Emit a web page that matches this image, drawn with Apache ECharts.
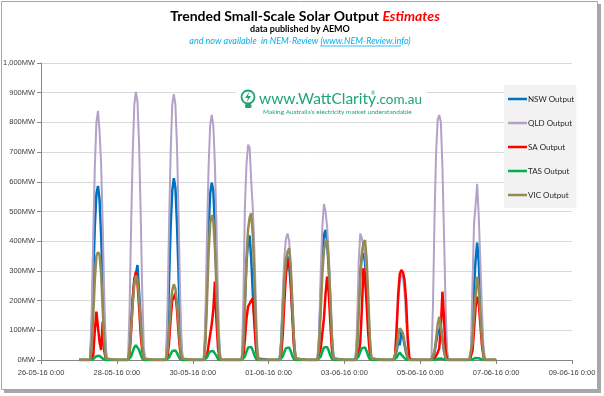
<!DOCTYPE html>
<html>
<head>
<meta charset="utf-8">
<script src="https://cdn.jsdelivr.net/npm/echarts@6/dist/echarts.min.js"></script>
<style>html,body{margin:0;padding:0;background:#fff;}#c{width:604px;height:396px;}</style>
</head>
<body>
<div id="c"></div>
<script>
// ---- data ----
const xTickLabels = ['26-05-16 0:00','28-05-16 0:00','30-05-16 0:00','01-06-16 0:00','03-06-16 0:00','05-06-16 0:00','07-06-16 0:00','09-06-16 0:00'];
const yTickLabels = ['0MW','100MW','200MW','300MW','400MW','500MW','600MW','700MW','800MW','900MW','1,000MW'];
const days = ['27-05-16','28-05-16','29-05-16','30-05-16','31-05-16','01-06-16','02-06-16','03-06-16','04-06-16','05-06-16','06-06-16'];
const hours = [8,9,10,11,12,13,14,15,16,17];
const seriesNames = ['NSW Output','QLD Output','SA Output','TAS Output','VIC Output'];

const nsw = [
[90,280,450,560,586,540,420,260,110,15],
[40,130,210,270,290,320,230,140,60,10],
[80,270,450,570,612,580,460,290,120,15],
[80,260,440,560,597,570,450,280,110,15],
[60,200,330,400,419,337,225,140,60,5],
[60,190,290,340,348,320,250,160,60,5],
[70,220,350,420,438,400,310,190,70,5],
[60,200,300,350,360,330,250,150,50,5],
[5,30,60,50,95,80,50,25,5,0],
[5,25,60,90,100,112,70,30,5,0],
[10,100,250,337,395,330,200,90,20,0]
];
const qld = [
[150,420,650,800,839,769,660,450,210,40],
[170,460,700,860,903,870,730,500,230,45],
[170,460,700,860,895,860,720,490,220,40],
[150,420,650,790,825,790,660,450,200,35],
[200,520,660,725,715,600,510,370,180,30],
[80,230,350,410,426,400,320,210,90,15],
[100,300,450,525,500,450,360,240,100,15],
[120,330,426,410,380,360,300,200,80,10],
[20,120,200,260,290,280,230,140,50,5],
[180,480,700,810,825,800,650,420,180,30],
[30,250,460,522,593,480,330,170,40,0]
];
const sa = [
[0,15,100,163,110,60,34,129,30,0],
[20,100,200,270,297,260,180,90,30,0],
[10,60,140,200,210,225,170,90,30,0],
[0,15,50,85,120,170,264,130,40,0],
[10,70,140,180,190,200,208,120,40,0],
[20,90,200,290,330,337,270,150,50,0],
[5,40,90,140,220,281,230,130,40,0],
[0,20,60,170,309,280,190,90,25,0],
[10,100,220,290,303,295,270,200,80,10],
[0,5,15,25,40,110,230,140,30,0],
[0,30,100,180,213,190,120,50,10,0]
];
const tas = [
[0,3,8,13,15,14,10,5,1,0],
[2,12,28,43,50,46,34,18,5,0],
[1,8,20,30,34,32,24,12,3,0],
[1,8,22,29,30,30,27,14,3,0],
[2,12,28,42,47,44,32,16,4,0],
[2,12,28,40,45,42,30,14,3,0],
[2,12,28,42,47,44,32,16,4,0],
[2,12,28,40,45,42,30,14,3,0],
[0,8,18,25,18,12,6,2,0,0],
[0,1,3,4,5,5,4,2,0,0],
[0,2,5,7,7,6,4,2,0,0]
];
const vic = [
[40,150,270,350,363,355,290,170,60,5],
[30,110,190,255,285,270,210,130,50,5],
[30,100,180,235,255,240,190,120,45,5],
[60,200,360,460,488,470,380,240,90,10],
[50,180,340,440,480,494,420,270,100,10],
[50,160,270,340,365,376,310,190,70,5],
[50,170,290,370,395,404,330,210,80,5],
[40,150,270,360,395,404,340,220,80,5],
[5,40,80,107,100,90,60,30,8,0],
[5,30,70,120,146,110,70,30,8,0],
[5,60,160,219,281,240,150,70,15,0]
];

// ---- build point lists: x = hours since 26-05-16 0:00 ----
function build(arr){
  const pts = [];
  days.forEach(function(d, i){
    const base = 24 * (i + 1);
    pts.push([base, 0]);
    pts.push([base + 7, 0]);
    hours.forEach(function(h, j){ pts.push([base + h, arr[i][j]]); });
    pts.push([base + 18, 0]);
  });
  pts.push([24 * (days.length + 1), 0]);
  return pts;
}
const allData = [nsw, qld, sa, tas, vic];
const colors = ['#0070C0','#B3A2C7','#FF0000','#00B050','#948A54'];
const widths = [2.5, 2, 2.5, 2.5, 2.5];

const chart = echarts.init(document.getElementById('c'), null, {renderer:'canvas'});
const green = '#1FA472';
const option = {
  backgroundColor: '#ffffff',
  animation: false,
  title: {
    text: '{a|Trended Small-Scale Solar Output }{b|Estimates}',
    left: 300, top: 4, textAlign: 'center',
    textStyle: {
      rich: {
        a: {fontFamily: 'Lato', fontWeight: 'bold', fontSize: 14, color: '#000'},
        b: {fontFamily: 'Lato', fontWeight: 'bold', fontStyle: 'italic', fontSize: 14, color: '#FF0000'}
      }
    }
  },
  grid: {left: 41, top: 63, width: 531, height: 297, containLabel: false},
  legend: {
    orient: 'vertical', left: 504, top: 85,
    padding: [10, 2, 9, 4],
    icon: 'rect',
    itemWidth: 19, itemHeight: 2.5, itemGap: 16,
    backgroundColor: '#F2F2F2',
    textStyle: {fontFamily: 'Lato', fontSize: 8, color: '#262626', padding: [0,0,0,-4]},
    data: seriesNames
  },
  xAxis: {
    type: 'value', min: 0, max: 336, interval: 48,
    axisLine: {show: true, lineStyle: {color: '#868686', width: 1}},
    axisTick: {show: true, length: 4, lineStyle: {color: '#868686'}},
    splitLine: {show: false},
    axisLabel: {
      margin: 9, fontFamily: 'Liberation Sans', fontSize: 7.5, color: '#404040',
      formatter: function(v){ return xTickLabels[Math.round(v / 48)] || ''; }
    }
  },
  yAxis: {
    type: 'value', min: 0, max: 1000, interval: 100,
    axisLine: {show: true, lineStyle: {color: '#868686', width: 1}},
    axisTick: {show: true, length: 4, lineStyle: {color: '#868686'}},
    splitLine: {show: true, lineStyle: {color: '#D9D9D9', width: 1}},
    axisLabel: {
      margin: 6, fontFamily: 'Liberation Sans', fontSize: 7.5, color: '#404040',
      formatter: function(v){ return yTickLabels[Math.round(v / 100)]; }
    }
  },
  series: seriesNames.map(function(n, i){
    return {
      name: n, type: 'line', data: build(allData[i]),
      symbol: 'none', smooth: false,
      lineStyle: {color: colors[i], width: widths[i]},
      itemStyle: {color: colors[i]},
      z: 2 + i
    };
  }),
  graphic: [
    // frame + shadow
    {type: 'rect', z: -20, shape: {x: 4, y: 4, width: 597, height: 389}, style: {fill: '#a8a8a8'}},
    {type: 'rect', z: -19, shape: {x: 1.5, y: 1.5, width: 596, height: 388}, style: {fill: '#ffffff', stroke: '#a6a6a6', lineWidth: 1}},
    // sub titles
    {type: 'text', z: 5, x: 300, y: 29, style: {text: 'data published by AEMO', align: 'center', verticalAlign: 'middle', fontFamily: 'Lato', fontWeight: 'bold', fontSize: 9, fill: '#000'}},
    {type: 'text', z: 5, x: 300, y: 41, style: {text: 'and now available  in NEM-Review (www.NEM-Review.info)', align: 'center', verticalAlign: 'middle', fontFamily: 'Lato', fontStyle: 'italic', fontSize: 9, fill: '#00B0F0'}},
    {type: 'line', z: 5, shape: {x1: 320, y1: 46, x2: 401, y2: 46}, style: {stroke: '#00B0F0', lineWidth: 0.8}},
    // watermark logo
    {type: 'rect', z: 1, shape: {x: 236, y: 84, width: 190, height: 34}, style: {fill: '#ffffff'}},
    {type: 'circle', z: 1, shape: {cx: 248, cy: 97, r: 6.5}, style: {fill: 'none', stroke: green, lineWidth: 1.8}},
    {type: 'rect', z: 1, shape: {x: 245, y: 104, width: 6.5, height: 4, r: 1.5}, style: {fill: green}},
    {type: 'polygon', z: 1, shape: {points: [[249.5,91.5],[245,98],[248,98],[246.5,102.5],[251,96],[248,96]]}, style: {fill: green}},
    {type: 'text', z: 1, x: 259, y: 99, style: {text: 'www.WattClarity', verticalAlign: 'middle', fontFamily: 'Lato', fontSize: 15.5, fill: green}},
    {type: 'text', z: 1, x: 371, y: 93, style: {text: '®', verticalAlign: 'middle', fontFamily: 'Lato', fontSize: 5, fill: green}},
    {type: 'text', z: 1, x: 422, y: 100, style: {text: '.com.au', align: 'right', verticalAlign: 'middle', fontFamily: 'Lato', fontSize: 13.5, fill: green}},
    {type: 'text', z: 1, x: 263, y: 112, style: {text: "Making Australia's electricity market understandable", verticalAlign: 'middle', fontFamily: 'Lato', fontSize: 6.5, fill: green}}
  ]
};
chart.setOption(option);
</script>
</body>
</html>
